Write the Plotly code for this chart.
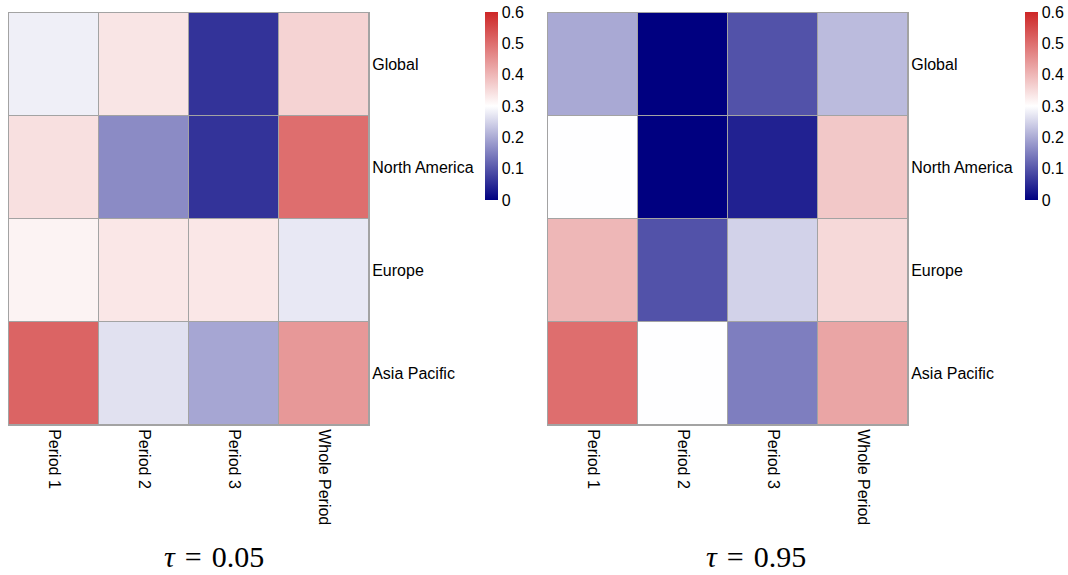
import plotly.graph_objects as go

periods = ["Period 1", "Period 2", "Period 3", "Whole Period"]
regions = ["Global", "North America", "Europe", "Asia Pacific"]

# correlation estimates, rows = regions, columns = periods
tau_05 = [
    [0.281, 0.336, 0.060, 0.361],
    [0.343, 0.164, 0.060, 0.500],
    [0.317, 0.333, 0.333, 0.273],
    [0.514, 0.265, 0.195, 0.443],
]
tau_95 = [
    [0.199, 0.000, 0.096, 0.220],
    [0.299, 0.000, 0.039, 0.376],
    [0.400, 0.096, 0.247, 0.353],
    [0.500, 0.299, 0.148, 0.424],
]
panel_titles = ["<i>τ</i>\u2004=\u20040.05", "<i>τ</i>\u2004=\u20040.95"]

colorscale = [[0.0, "#000080"], [0.5, "#FFFFFF"], [1.0, "#CD2626"]]
W, H = 1068, 575
grid = "#A3A3A3"
label_font = dict(family="Liberation Sans, Arial, sans-serif", size=16, color="#000000")

# pixel layout of each panel: heatmap left/right edges, colorbar left edge, title centre
panels = [
    dict(x0=9, x1=369, cb=485, tx=214),
    dict(x0=548, x1=908, cb=1025, tx=756),
]
y_top, y_bot = 13, 425

fig = go.Figure()
for i, (z, p) in enumerate(zip([tau_05, tau_95], panels)):
    ax = "" if i == 0 else str(i + 1)
    fig.add_trace(go.Heatmap(
        z=z, x=periods, y=regions,
        xaxis="x" + ax, yaxis="y" + ax,
        colorscale=colorscale, zmin=0, zmax=0.6,
        xgap=1, ygap=1,
        colorbar=dict(
            x=p["cb"] / W, xanchor="left",
            y=1 - 12 / H, yanchor="top",
            len=188, lenmode="pixels",
            thickness=13, thicknessmode="pixels",
            xpad=0, ypad=0,
            outlinewidth=0,
            tickvals=[0, 0.1, 0.2, 0.3, 0.4, 0.5, 0.6],
            ticktext=["0", "0.1", "0.2", "0.3", "0.4", "0.5", "0.6"],
            ticks="", ticklen=0,
            tickfont=label_font,
        ),
    ))
    fig.layout["xaxis" + ax] = dict(
        domain=[p["x0"] / W, p["x1"] / W],
        anchor="y" + ax,
        tickangle=90, ticks="", showgrid=False, zeroline=False,
        showline=True, mirror=True, linecolor=grid, linewidth=1,
        tickfont=label_font, fixedrange=True,
    )
    fig.layout["yaxis" + ax] = dict(
        domain=[1 - y_bot / H, 1 - y_top / H],
        anchor="x" + ax, side="right",
        autorange="reversed", ticks="", showgrid=False, zeroline=False,
        showline=True, mirror=True, linecolor=grid, linewidth=1,
        tickfont=label_font, fixedrange=True,
        ticklabelstandoff=-1,
    )
    fig.add_annotation(
        text=panel_titles[i], xref="paper", yref="paper",
        x=p["tx"] / W, y=0, xanchor="center", yanchor="bottom",
        showarrow=False,
        font=dict(family="Liberation Serif, DejaVu Serif, serif", size=30, color="#000000"),
    )

fig.update_layout(
    width=W, height=H,
    margin=dict(l=0, r=0, t=0, b=0, autoexpand=False),
    paper_bgcolor="white", plot_bgcolor=grid,
    showlegend=False,
)
fig.write_html("out.html")
